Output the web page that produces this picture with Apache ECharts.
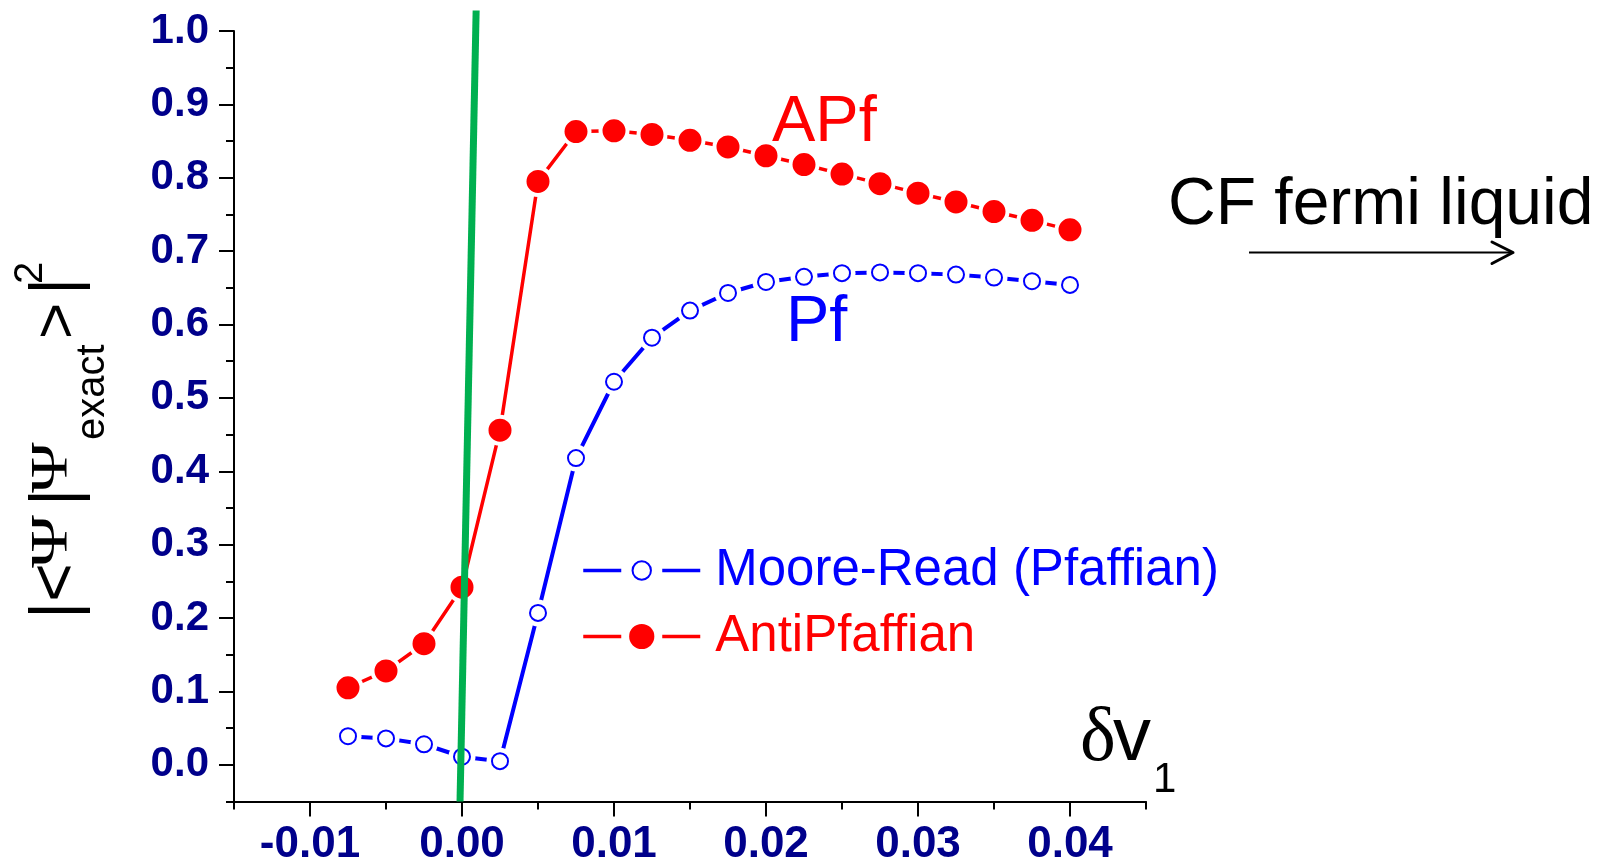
<!DOCTYPE html>
<html>
<head>
<meta charset="utf-8">
<script src="https://cdn.jsdelivr.net/npm/echarts@6/dist/echarts.min.js"></script>
<style>
  html, body { margin: 0; padding: 0; background: #ffffff; }
  #chart { width: 1614px; height: 868px; }
</style>
</head>
<body>
<div id="chart"></div>
<script>
// Filling-factor offset δν1 at which the overlaps were computed
const deltaNu = [-0.0075, -0.005, -0.0025, 0, 0.0025, 0.005, 0.0075, 0.01, 0.0125, 0.015,
                 0.0175, 0.02, 0.0225, 0.025, 0.0275, 0.03, 0.0325, 0.035, 0.0375, 0.04];

// |<Ψ|Ψexact>|² for the anti-Pfaffian trial state
const antiPfaffianOverlap = [0.105, 0.128, 0.165, 0.242, 0.456, 0.795, 0.863, 0.864, 0.859, 0.851,
                             0.842, 0.830, 0.818, 0.805, 0.792, 0.779, 0.767, 0.754, 0.742, 0.729];

// |<Ψ|Ψexact>|² for the Moore-Read (Pfaffian) trial state
const pfaffianOverlap = [0.039, 0.036, 0.028, 0.011, 0.005, 0.207, 0.418, 0.522, 0.582, 0.619,
                         0.643, 0.658, 0.665, 0.670, 0.671, 0.670, 0.668, 0.664, 0.659, 0.654];

// Tick labels
const xTickLabels = ['-0.01', '0.00', '0.01', '0.02', '0.03', '0.04'];
const yTickLabels = ['0.0', '0.1', '0.2', '0.3', '0.4', '0.5', '0.6', '0.7', '0.8', '0.9', '1.0'];

// Green transition guide: end points in data units
const guideX = [0.00093, -0.00013];
const guideY = [1.028, -0.05];

const SANS = '"Liberation Sans", Arial, sans-serif';
const SERIF = '"Liberation Serif", "Times New Roman", serif';
const NAVY = '#00008b';
const BLUE = '#0000ff';
const RED = '#ff0000';

const pfData = deltaNu.map((x, i) => [x, pfaffianOverlap[i]]);
const apData = deltaNu.map((x, i) => [x, antiPfaffianOverlap[i]]);
const guideData = guideX.map((x, i) => [x, guideY[i]]);

const chart = echarts.init(document.getElementById('chart'), null, { renderer: 'canvas' });

// Rotated pieces of the y-axis title |<Ψ|Ψexact>|²
function titlePiece(text, baselineX, startY, size, family, extra) {
  return Object.assign({
    type: 'text',
    x: baselineX - 0.35 * size,
    y: startY,
    rotation: Math.PI / 2,
    z: 20,
    style: { text: text, fontSize: size, fontFamily: family, fill: '#000000',
             align: 'left', verticalAlign: 'middle' }
  }, extra || {});
}

const axisLabelStyle = { color: NAVY, fontWeight: 'bold', fontFamily: SANS };

// legend line broken around the marker
const legendLine = { opacity: 1, width: 3.5, type: [38, 41] };

const option = {
  animation: false,
  backgroundColor: '#ffffff',
  grid: [
    { left: 234, right: 468, top: 31, bottom: 66.5 },          // data grid, minor ticks
    { left: 310, right: 544, top: 31, bottom: 103.19 }         // major ticks and labels
  ],
  xAxis: [
    {
      gridIndex: 0, type: 'value', min: -0.015, max: 0.045, interval: 0.005,
      axisLine: { onZero: false, lineStyle: { color: '#000', width: 2 } },
      axisTick: { length: 8, lineStyle: { color: '#000', width: 2 } },
      axisLabel: { show: false }, splitLine: { show: false }
    },
    {
      gridIndex: 1, type: 'value', min: -0.01, max: 0.04, interval: 0.01, offset: 36.69,
      axisLine: { show: false, onZero: false },
      axisTick: { length: 15, lineStyle: { color: '#000', width: 2 } },
      axisLabel: Object.assign({ margin: 21, fontSize: 44, formatter: (v, i) => xTickLabels[i] }, axisLabelStyle),
      splitLine: { show: false }
    }
  ],
  yAxis: [
    {
      gridIndex: 0, type: 'value', min: -0.05, max: 1.0, interval: 0.05,
      axisLine: { onZero: false, lineStyle: { color: '#000', width: 2 } },
      axisTick: { length: 8, lineStyle: { color: '#000', width: 2 } },
      axisLabel: { show: false }, splitLine: { show: false }
    },
    {
      gridIndex: 1, type: 'value', min: 0, max: 1.0, interval: 0.1, offset: 76,
      axisLine: { show: false, onZero: false },
      axisTick: { length: 15, lineStyle: { color: '#000', width: 2 } },
      axisLabel: Object.assign({ margin: 25, fontSize: 42, formatter: (v, i) => yTickLabels[i] }, axisLabelStyle),
      splitLine: { show: false }
    }
  ],
  legend: [
    {
      data: [{ name: 'Moore-Read (Pfaffian)', textStyle: { color: BLUE }, lineStyle: legendLine }],
      left: 581.5, top: 545, padding: 0, itemWidth: 117, itemHeight: 23,
      lineStyle: legendLine, selectedMode: false,
      textStyle: { fontSize: 51, fontFamily: SANS, color: BLUE, padding: [0, 0, 0, 10] }
    },
    {
      data: [{ name: 'AntiPfaffian', textStyle: { color: RED }, lineStyle: legendLine }],
      left: 581.5, top: 611, padding: 0, itemWidth: 117, itemHeight: 34,
      lineStyle: legendLine, selectedMode: false,
      textStyle: { fontSize: 51, fontFamily: SANS, color: RED, padding: [0, 0, 0, 10] }
    }
  ],
  series: [
    {
      name: 'Moore-Read (Pfaffian)', type: 'line', xAxisIndex: 0, yAxisIndex: 0,
      data: pfData, symbol: 'emptyCircle', symbolSize: 16,
      itemStyle: { color: BLUE, borderWidth: 3 },
      lineStyle: { color: BLUE, width: 4, opacity: 0 },
      emphasis: { disabled: true }, z: 6
    },
    {
      // white halo around the open circles, leaving a gap in the line
      type: 'line', xAxisIndex: 0, yAxisIndex: 0,
      data: pfData, symbol: 'circle', symbolSize: 27,
      itemStyle: { color: '#ffffff' },
      lineStyle: { color: BLUE, width: 4 },
      emphasis: { disabled: true }, silent: true, z: 5
    },
    {
      name: 'AntiPfaffian', type: 'line', xAxisIndex: 0, yAxisIndex: 0,
      data: apData, symbol: 'circle', symbolSize: 27,
      itemStyle: { color: RED, borderColor: '#ffffff', borderWidth: 4 },
      lineStyle: { color: RED, width: 3.5 },
      emphasis: { disabled: true }, z: 5
    },
    {
      type: 'line', xAxisIndex: 0, yAxisIndex: 0,
      data: guideData, symbol: 'none', clip: false,
      lineStyle: { color: '#00b050', width: 7 },
      emphasis: { disabled: true }, silent: true, z: 10
    }
  ],
  graphic: [
    { type: 'text', x: 772, y: 123.5, z: 20,
      style: { text: 'APf', fontSize: 65, fontFamily: SANS, fill: RED, align: 'left', verticalAlign: 'middle' } },
    { type: 'text', x: 786, y: 323.5, z: 20,
      style: { text: 'Pf', fontSize: 65, fontFamily: SANS, fill: BLUE, align: 'left', verticalAlign: 'middle' } },
    { type: 'text', x: 1168, y: 206, z: 20,
      style: { text: 'CF fermi liquid', fontSize: 66, fontFamily: SANS, fill: '#000', align: 'left', verticalAlign: 'middle' } },
    { type: 'line', z: 20, shape: { x1: 1249, y1: 252.5, x2: 1511, y2: 252.5 },
      style: { stroke: '#000', lineWidth: 2 } },
    { type: 'polyline', z: 20, shape: { points: [[1492, 242], [1513, 252.5], [1492, 263.5]] },
      style: { stroke: '#000', lineWidth: 3, fill: null, lineCap: 'round', lineJoin: 'round' } },

    // δv1 axis name
    { type: 'text', x: 1080, y: 739.7, z: 20,
      style: { text: 'δ', fontSize: 76, fontFamily: SERIF, fill: '#000', align: 'left', verticalAlign: 'middle' } },
    { type: 'text', x: 1113, y: 739, z: 20,
      style: { text: 'v', fontSize: 76, fontFamily: SANS, fill: '#000', align: 'left', verticalAlign: 'middle' } },
    { type: 'text', x: 1153, y: 780.4, z: 20,
      style: { text: '1', fontSize: 42, fontFamily: SANS, fill: '#000', align: 'left', verticalAlign: 'middle' } },

    // |<Ψ|Ψexact>|² rotated title
    titlePiece('|<', 81, 619, 66, SANS),
    titlePiece('Ψ', 72, 568, 52, SERIF, { scaleX: 1.38 }),
    titlePiece('|', 81, 506, 66, SANS),
    titlePiece('Ψ', 72, 493, 52, SERIF, { scaleX: 1.32 }),
    titlePiece('exact', 107, 440, 40, SANS),
    titlePiece('>', 81, 339, 62, SANS),
    titlePiece('|', 81, 295, 66, SANS),
    titlePiece('2', 45, 284, 40, SANS)
  ]
};

chart.setOption(option);
</script>
</body>
</html>
